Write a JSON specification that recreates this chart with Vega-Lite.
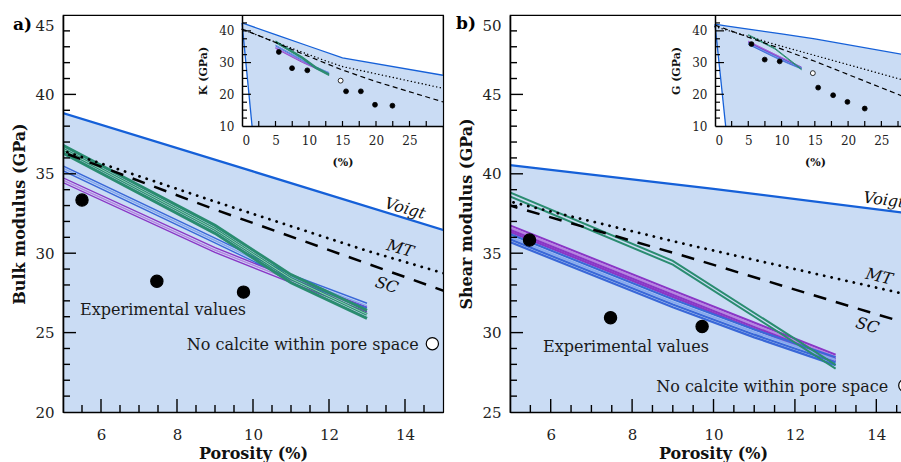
{
  "$schema": "https://vega.github.io/schema/vega-lite/v6.json",
  "padding": {"left": 11, "top": 14, "right": 0, "bottom": 0},
  "spacing": 11,
  "datasets": {
    "boundsK": [
      {"x": 0, "voigt": 42.5, "lower": 42.5},
      {"x": 1.5, "voigt": 41.4, "lower": 10},
      {"x": 5, "voigt": 38.83, "lower": 10},
      {"x": 10, "voigt": 35.15, "lower": 10},
      {"x": 15, "voigt": 31.46, "lower": 10},
      {"x": 30, "voigt": 26.0, "lower": 10}
    ],
    "reussK": [{"x": 0, "y": 42.5}, {"x": 1.5, "y": 10}],
    "mtK": [{"x": 0, "y": 40.5}, {"x": 5, "y": 36.45}, {"x": 9, "y": 33.25}, {"x": 13, "y": 30.15}, {"x": 15, "y": 28.75}, {"x": 30, "y": 21.9}],
    "scK": [{"x": 0, "y": 40.6}, {"x": 5, "y": 36.35}, {"x": 9, "y": 32.75}, {"x": 13, "y": 29.35}, {"x": 15, "y": 27.65}, {"x": 20, "y": 24.0}, {"x": 30, "y": 17.6}],
    "bandsK": [
      {"band": "green", "line": "g1", "x": 5, "y": 36.8}, {"band": "green", "line": "g1", "x": 9, "y": 31.75}, {"band": "green", "line": "g1", "x": 11, "y": 28.65}, {"band": "green", "line": "g1", "x": 13, "y": 26.4},
      {"band": "green", "line": "g2", "x": 5, "y": 36.55}, {"band": "green", "line": "g2", "x": 9, "y": 31.5}, {"band": "green", "line": "g2", "x": 11, "y": 28.4}, {"band": "green", "line": "g2", "x": 13, "y": 26.15},
      {"band": "green", "line": "g3", "x": 5, "y": 36.3}, {"band": "green", "line": "g3", "x": 9, "y": 31.25}, {"band": "green", "line": "g3", "x": 11, "y": 28.15}, {"band": "green", "line": "g3", "x": 13, "y": 25.9},
      {"band": "purple", "line": "p1", "x": 5, "y": 34.75}, {"band": "purple", "line": "p1", "x": 9, "y": 30.35}, {"band": "purple", "line": "p1", "x": 11, "y": 28.45}, {"band": "purple", "line": "p1", "x": 13, "y": 26.6},
      {"band": "purple", "line": "p2", "x": 5, "y": 34.6}, {"band": "purple", "line": "p2", "x": 9, "y": 30.2}, {"band": "purple", "line": "p2", "x": 11, "y": 28.3}, {"band": "purple", "line": "p2", "x": 13, "y": 26.45},
      {"band": "purple", "line": "p3", "x": 5, "y": 34.45}, {"band": "purple", "line": "p3", "x": 9, "y": 30.05}, {"band": "purple", "line": "p3", "x": 11, "y": 28.15}, {"band": "purple", "line": "p3", "x": 13, "y": 26.3},
      {"band": "blue", "line": "b1", "x": 5, "y": 35.5}, {"band": "blue", "line": "b1", "x": 9, "y": 30.95}, {"band": "blue", "line": "b1", "x": 11, "y": 28.65}, {"band": "blue", "line": "b1", "x": 13, "y": 26.85},
      {"band": "blue", "line": "b2", "x": 5, "y": 35.35}, {"band": "blue", "line": "b2", "x": 9, "y": 30.8}, {"band": "blue", "line": "b2", "x": 11, "y": 28.5}, {"band": "blue", "line": "b2", "x": 13, "y": 26.7},
      {"band": "blue", "line": "b3", "x": 5, "y": 35.2}, {"band": "blue", "line": "b3", "x": 9, "y": 30.65}, {"band": "blue", "line": "b3", "x": 11, "y": 28.35}, {"band": "blue", "line": "b3", "x": 13, "y": 26.55}
    ],
    "markersK": [
      {"x": 5.5, "y": 33.35, "kind": "filled"}, {"x": 7.47, "y": 28.23, "kind": "filled"}, {"x": 9.75, "y": 27.55, "kind": "filled"},
      {"x": 15.53, "y": 20.93, "kind": "filled"}, {"x": 17.74, "y": 20.93, "kind": "filled"}, {"x": 19.85, "y": 16.7, "kind": "filled"}, {"x": 22.45, "y": 16.4, "kind": "filled"},
      {"x": 14.72, "y": 24.3, "kind": "open"}
    ],
    "boundsG": [
      {"x": 0, "voigt": 42.1, "lower": 42.1},
      {"x": 1.6, "voigt": 41.6, "lower": 10},
      {"x": 5, "voigt": 40.55, "lower": 10},
      {"x": 10, "voigt": 39.05, "lower": 10},
      {"x": 15, "voigt": 37.45, "lower": 10},
      {"x": 30, "voigt": 31.9, "lower": 10}
    ],
    "reussG": [{"x": 0, "y": 42.1}, {"x": 1.6, "y": 10}],
    "mtG": [{"x": 0, "y": 41.3}, {"x": 5, "y": 38.25}, {"x": 9.34, "y": 35.55}, {"x": 15, "y": 32.25}, {"x": 30, "y": 23.5}],
    "scG": [{"x": 0, "y": 41.8}, {"x": 5, "y": 38.0}, {"x": 9.34, "y": 34.78}, {"x": 13.84, "y": 31.28}, {"x": 15, "y": 30.4}, {"x": 30, "y": 17.9}],
    "bandsG": [
      {"band": "green", "line": "g1", "x": 5, "y": 38.82}, {"band": "green", "line": "g1", "x": 9, "y": 34.52}, {"band": "green", "line": "g1", "x": 13, "y": 27.97},
      {"band": "green", "line": "g2", "x": 5, "y": 38.58}, {"band": "green", "line": "g2", "x": 9, "y": 34.28}, {"band": "green", "line": "g2", "x": 13, "y": 27.73},
      {"band": "purple", "line": "p1", "x": 5, "y": 36.75}, {"band": "purple", "line": "p1", "x": 9, "y": 32.65}, {"band": "purple", "line": "p1", "x": 13, "y": 28.6},
      {"band": "purple", "line": "p2", "x": 5, "y": 36.62}, {"band": "purple", "line": "p2", "x": 9, "y": 32.52}, {"band": "purple", "line": "p2", "x": 13, "y": 28.47},
      {"band": "purple", "line": "p3", "x": 5, "y": 36.48}, {"band": "purple", "line": "p3", "x": 9, "y": 32.38}, {"band": "purple", "line": "p3", "x": 13, "y": 28.33},
      {"band": "purple", "line": "p4", "x": 5, "y": 36.35}, {"band": "purple", "line": "p4", "x": 9, "y": 32.25}, {"band": "purple", "line": "p4", "x": 13, "y": 28.2},
      {"band": "blue", "line": "b1", "x": 5, "y": 36.2}, {"band": "blue", "line": "b1", "x": 9, "y": 32.1}, {"band": "blue", "line": "b1", "x": 11, "y": 30.2}, {"band": "blue", "line": "b1", "x": 13, "y": 28.45},
      {"band": "blue", "line": "b2", "x": 5, "y": 36.03}, {"band": "blue", "line": "b2", "x": 9, "y": 31.93}, {"band": "blue", "line": "b2", "x": 11, "y": 30.03}, {"band": "blue", "line": "b2", "x": 13, "y": 28.28},
      {"band": "blue", "line": "b3", "x": 5, "y": 35.87}, {"band": "blue", "line": "b3", "x": 9, "y": 31.77}, {"band": "blue", "line": "b3", "x": 11, "y": 29.87}, {"band": "blue", "line": "b3", "x": 13, "y": 28.12},
      {"band": "blue", "line": "b4", "x": 5, "y": 35.7}, {"band": "blue", "line": "b4", "x": 9, "y": 31.6}, {"band": "blue", "line": "b4", "x": 11, "y": 29.7}, {"band": "blue", "line": "b4", "x": 13, "y": 27.95}
    ],
    "markersG": [
      {"x": 5.48, "y": 35.83, "kind": "filled"}, {"x": 7.47, "y": 30.94, "kind": "filled"}, {"x": 9.72, "y": 30.38, "kind": "filled"},
      {"x": 15.5, "y": 22.1, "kind": "filled"}, {"x": 17.75, "y": 19.7, "kind": "filled"}, {"x": 19.9, "y": 17.6, "kind": "filled"}, {"x": 22.5, "y": 15.5, "kind": "filled"},
      {"x": 14.7, "y": 26.67, "kind": "open"}
    ],
    "ticksXK": [
      {"v": 5.5, "at": 20, "kind": "minor"}, {"v": 6, "at": 20, "kind": "major"}, {"v": 6.5, "at": 20, "kind": "minor"}, {"v": 7, "at": 20, "kind": "minor"}, {"v": 7.5, "at": 20, "kind": "minor"},
      {"v": 8, "at": 20, "kind": "major"}, {"v": 8.5, "at": 20, "kind": "minor"}, {"v": 9, "at": 20, "kind": "minor"}, {"v": 9.5, "at": 20, "kind": "minor"},
      {"v": 10, "at": 20, "kind": "major"}, {"v": 10.5, "at": 20, "kind": "minor"}, {"v": 11, "at": 20, "kind": "minor"}, {"v": 11.5, "at": 20, "kind": "minor"},
      {"v": 12, "at": 20, "kind": "major"}, {"v": 12.5, "at": 20, "kind": "minor"}, {"v": 13, "at": 20, "kind": "minor"}, {"v": 13.5, "at": 20, "kind": "minor"},
      {"v": 14, "at": 20, "kind": "major"}, {"v": 14.5, "at": 20, "kind": "minor"}
    ],
    "ticksXG": [
      {"v": 5.5, "at": 25, "kind": "minor"}, {"v": 6, "at": 25, "kind": "major"}, {"v": 6.5, "at": 25, "kind": "minor"}, {"v": 7, "at": 25, "kind": "minor"}, {"v": 7.5, "at": 25, "kind": "minor"},
      {"v": 8, "at": 25, "kind": "major"}, {"v": 8.5, "at": 25, "kind": "minor"}, {"v": 9, "at": 25, "kind": "minor"}, {"v": 9.5, "at": 25, "kind": "minor"},
      {"v": 10, "at": 25, "kind": "major"}, {"v": 10.5, "at": 25, "kind": "minor"}, {"v": 11, "at": 25, "kind": "minor"}, {"v": 11.5, "at": 25, "kind": "minor"},
      {"v": 12, "at": 25, "kind": "major"}, {"v": 12.5, "at": 25, "kind": "minor"}, {"v": 13, "at": 25, "kind": "minor"}, {"v": 13.5, "at": 25, "kind": "minor"},
      {"v": 14, "at": 25, "kind": "major"}, {"v": 14.5, "at": 25, "kind": "minor"}
    ],
    "ticksYK": [
      {"v": 21, "at": 5, "kind": "minor"}, {"v": 22, "at": 5, "kind": "minor"}, {"v": 23, "at": 5, "kind": "minor"}, {"v": 24, "at": 5, "kind": "minor"}, {"v": 25, "at": 5, "kind": "major"},
      {"v": 26, "at": 5, "kind": "minor"}, {"v": 27, "at": 5, "kind": "minor"}, {"v": 28, "at": 5, "kind": "minor"}, {"v": 29, "at": 5, "kind": "minor"}, {"v": 30, "at": 5, "kind": "major"},
      {"v": 31, "at": 5, "kind": "minor"}, {"v": 32, "at": 5, "kind": "minor"}, {"v": 33, "at": 5, "kind": "minor"}, {"v": 34, "at": 5, "kind": "minor"}, {"v": 35, "at": 5, "kind": "major"},
      {"v": 36, "at": 5, "kind": "minor"}, {"v": 37, "at": 5, "kind": "minor"}, {"v": 38, "at": 5, "kind": "minor"}, {"v": 39, "at": 5, "kind": "minor"}, {"v": 40, "at": 5, "kind": "major"},
      {"v": 41, "at": 5, "kind": "minor"}, {"v": 42, "at": 5, "kind": "minor"}, {"v": 43, "at": 5, "kind": "minor"}, {"v": 44, "at": 5, "kind": "minor"}
    ],
    "ticksYG": [
      {"v": 26, "at": 5, "kind": "minor"}, {"v": 27, "at": 5, "kind": "minor"}, {"v": 28, "at": 5, "kind": "minor"}, {"v": 29, "at": 5, "kind": "minor"}, {"v": 30, "at": 5, "kind": "major"},
      {"v": 31, "at": 5, "kind": "minor"}, {"v": 32, "at": 5, "kind": "minor"}, {"v": 33, "at": 5, "kind": "minor"}, {"v": 34, "at": 5, "kind": "minor"}, {"v": 35, "at": 5, "kind": "major"},
      {"v": 36, "at": 5, "kind": "minor"}, {"v": 37, "at": 5, "kind": "minor"}, {"v": 38, "at": 5, "kind": "minor"}, {"v": 39, "at": 5, "kind": "minor"}, {"v": 40, "at": 5, "kind": "major"},
      {"v": 41, "at": 5, "kind": "minor"}, {"v": 42, "at": 5, "kind": "minor"}, {"v": 43, "at": 5, "kind": "minor"}, {"v": 44, "at": 5, "kind": "minor"}, {"v": 45, "at": 5, "kind": "major"},
      {"v": 46, "at": 5, "kind": "minor"}, {"v": 47, "at": 5, "kind": "minor"}, {"v": 48, "at": 5, "kind": "minor"}, {"v": 49, "at": 5, "kind": "minor"}
    ],
    "ticksInsetX": [
      {"v": 2.5, "at": 10}, {"v": 5, "at": 10}, {"v": 7.5, "at": 10}, {"v": 10, "at": 10}, {"v": 12.5, "at": 10}, {"v": 15, "at": 10},
      {"v": 17.5, "at": 10}, {"v": 20, "at": 10}, {"v": 22.5, "at": 10}, {"v": 25, "at": 10}, {"v": 27.5, "at": 10}
    ],
    "ticksInsetY": [
      {"v": 12.5, "at": 0, "kind": "minor"}, {"v": 15, "at": 0, "kind": "minor"}, {"v": 17.5, "at": 0, "kind": "minor"}, {"v": 20, "at": 0, "kind": "major"},
      {"v": 22.5, "at": 0, "kind": "minor"}, {"v": 25, "at": 0, "kind": "minor"}, {"v": 27.5, "at": 0, "kind": "minor"}, {"v": 30, "at": 0, "kind": "major"},
      {"v": 32.5, "at": 0, "kind": "minor"}, {"v": 35, "at": 0, "kind": "minor"}, {"v": 37.5, "at": 0, "kind": "minor"}, {"v": 40, "at": 0, "kind": "major"}, {"v": 42.5, "at": 0, "kind": "minor"}
    ]
  },
  "hconcat": [
    {
      "width": 380,
      "height": 397,
      "resolve": {"scale": {"x": "independent", "y": "independent"}, "axis": {"x": "independent", "y": "independent"}},
      "layer": [
        {
          "resolve": {"axis": {"x": "independent", "y": "independent"}},
          "layer": [
            {
              "data": {"name": "boundsK"},
              "mark": {"type": "area", "color": "#cadcf4", "clip": true},
              "encoding": {
                "x": {"field": "x", "type": "quantitative", "scale": {"domain": [5, 15], "nice": false, "zero": false},
                  "axis": {"orient": "bottom", "zindex": 1, "values": [6, 8, 10, 12, 14], "ticks": false, "grid": false, "domainWidth": 1.6, "domainColor": "#000", "labelPadding": 15, "labelFontSize": 15, "labelFont": "DejaVu Serif", "labelColor": "#222", "title": "Porosity (%)", "titleFont": "DejaVu Serif", "titleFontSize": 16, "titleFontWeight": "bold", "titleColor": "#111", "titleBaseline": "alphabetic", "titleY": 46}},
                "y": {"field": "voigt", "type": "quantitative", "scale": {"domain": [20, 45], "nice": false, "zero": false},
                  "axis": {"orient": "left", "zindex": 1, "values": [20, 25, 30, 35, 40, 45], "ticks": false, "grid": false, "domainWidth": 1.6, "domainColor": "#000", "labelPadding": 9, "labelFontSize": 15, "labelFont": "DejaVu Serif", "labelColor": "#222", "labelOffset": {"condition": {"test": "datum.value == 45", "value": 10}, "value": 0}, "title": "Bulk modulus (GPa)", "titleFont": "DejaVu Serif", "titleFontSize": 16, "titleFontWeight": "bold", "titleColor": "#111", "titlePadding": 7}},
                "y2": {"field": "lower"}
              }
            },
            {
              "data": {"name": "boundsK"},
              "mark": {"type": "line", "strokeOpacity": 0, "clip": true},
              "encoding": {
                "x": {"field": "x", "type": "quantitative", "axis": {"orient": "top", "zindex": 1, "ticks": false, "labels": false, "grid": false, "title": null, "domainColor": "#000", "domainWidth": 1.2}},
                "y": {"field": "voigt", "type": "quantitative", "axis": {"orient": "right", "zindex": 1, "ticks": false, "labels": false, "grid": false, "title": null, "domainColor": "#000", "domainWidth": 1.2}}
              }
            },
            {
              "data": {"name": "boundsK"},
              "mark": {"type": "line", "color": "#1560d8", "strokeWidth": 2.2, "clip": true},
              "encoding": {"x": {"field": "x", "type": "quantitative", "axis": null}, "y": {"field": "voigt", "type": "quantitative", "axis": null}}
            },
            {
              "data": {"name": "bandsK"},
              "transform": [{"filter": "datum.band != 'green'"}],
              "mark": {"type": "line", "strokeWidth": 1.4, "clip": true},
              "encoding": {
                "x": {"field": "x", "type": "quantitative", "axis": null}, "y": {"field": "y", "type": "quantitative", "axis": null},
                "color": {"field": "line", "type": "nominal", "legend": null, "scale": {"domain": ["b1", "b2", "b3", "b4", "p1", "p2", "p3", "p4", "g1", "g2", "g3"], "range": ["#3a68d8", "#86a9ee", "#3a68d8", "#3a68d8", "#8a36c6", "#b784e2", "#8a36c6", "#8a36c6", "#2a8c70", "#2a8c70", "#2a8c70"]}}
              }
            },
            {
              "data": {"name": "bandsK"},
              "transform": [{"filter": "datum.band == 'green'"}],
              "mark": {"type": "line", "strokeWidth": 3.0, "clip": true},
              "encoding": {
                "x": {"field": "x", "type": "quantitative", "axis": null}, "y": {"field": "y", "type": "quantitative", "axis": null},
                "color": {"field": "line", "type": "nominal", "legend": null}
              }
            },
            {
              "data": {"name": "bandsK"},
              "transform": [{"filter": "datum.line == 'g2'"}],
              "mark": {"type": "line", "strokeWidth": 0.8, "color": "#a8dccb", "clip": true},
              "encoding": {"x": {"field": "x", "type": "quantitative", "axis": null}, "y": {"field": "y", "type": "quantitative", "axis": null}}
            },
            {
              "data": {"name": "mtK"},
              "mark": {"type": "line", "color": "#000", "strokeWidth": 2.8, "strokeCap": "round", "strokeDash": [0.1, 7.5], "clip": true},
              "encoding": {"x": {"field": "x", "type": "quantitative", "axis": null}, "y": {"field": "y", "type": "quantitative", "axis": null}}
            },
            {
              "data": {"name": "scK"},
              "mark": {"type": "line", "color": "#000", "strokeWidth": 2.5, "strokeDash": [13, 10], "clip": true},
              "encoding": {"x": {"field": "x", "type": "quantitative", "axis": null}, "y": {"field": "y", "type": "quantitative", "axis": null}}
            },
            {
              "data": {"name": "markersK"},
              "mark": {"type": "circle", "size": 150, "stroke": "#000", "strokeWidth": 1.2, "opacity": 1, "clip": true},
              "encoding": {
                "x": {"field": "x", "type": "quantitative", "axis": null}, "y": {"field": "y", "type": "quantitative", "axis": null},
                "fill": {"field": "kind", "type": "nominal", "legend": null, "scale": {"domain": ["filled", "open"], "range": ["#000", "#fff"]}}
              }
            },
            {
              "data": {"name": "ticksXK"},
              "mark": {"type": "point", "shape": "M0,0V-2", "filled": false, "color": "#000", "strokeWidth": 1.4, "opacity": 1},
              "encoding": {
                "x": {"field": "v", "type": "quantitative", "axis": null},
                "y": {"field": "at", "type": "quantitative", "axis": null},
                "size": {"field": "kind", "type": "ordinal", "legend": null, "scale": {"domain": ["major", "minor"], "range": [169, 49]}}
              }
            },
            {
              "data": {"name": "ticksYK"},
              "mark": {"type": "point", "shape": "M0,0H2", "filled": false, "color": "#000", "strokeWidth": 1.4, "opacity": 1},
              "encoding": {
                "x": {"field": "at", "type": "quantitative", "axis": null},
                "y": {"field": "v", "type": "quantitative", "axis": null},
                "size": {"field": "kind", "type": "ordinal", "legend": null}
              }
            },
            {
              "data": {"values": [{"label": "Experimental values", "x": 5.45, "y": 26.09}]},
              "mark": {"type": "text", "align": "left", "baseline": "alphabetic", "font": "DejaVu Serif", "fontSize": 16, "color": "#1a1a1a"},
              "encoding": {"x": {"field": "x", "type": "quantitative", "axis": null}, "y": {"field": "y", "type": "quantitative", "axis": null}, "text": {"field": "label"}}
            },
            {
              "data": {"values": [{"label": "No calcite within pore space", "x": 14.36, "y": 23.89}]},
              "mark": {"type": "text", "align": "right", "baseline": "alphabetic", "font": "DejaVu Serif", "fontSize": 16, "color": "#1a1a1a"},
              "encoding": {"x": {"field": "x", "type": "quantitative", "axis": null}, "y": {"field": "y", "type": "quantitative", "axis": null}, "text": {"field": "label"}}
            },
            {
              "data": {"values": [{"label": "Voigt", "x": 14.0, "y": 32.81}]},
              "mark": {"type": "text", "align": "center", "baseline": "middle", "angle": 16, "font": "DejaVu Serif", "fontStyle": "italic", "fontSize": 16, "color": "#111"},
              "encoding": {"x": {"field": "x", "type": "quantitative", "axis": null}, "y": {"field": "y", "type": "quantitative", "axis": null}, "text": {"field": "label"}}
            },
            {
              "data": {"values": [{"label": "MT", "x": 13.87, "y": 30.28}]},
              "mark": {"type": "text", "align": "center", "baseline": "middle", "angle": 16, "font": "DejaVu Serif", "fontStyle": "italic", "fontSize": 16, "color": "#111"},
              "encoding": {"x": {"field": "x", "type": "quantitative", "axis": null}, "y": {"field": "y", "type": "quantitative", "axis": null}, "text": {"field": "label"}}
            },
            {
              "data": {"values": [{"label": "SC", "x": 13.52, "y": 27.98}]},
              "mark": {"type": "text", "align": "center", "baseline": "middle", "angle": 18, "font": "DejaVu Serif", "fontStyle": "italic", "fontSize": 16, "color": "#111"},
              "encoding": {"x": {"field": "x", "type": "quantitative", "axis": null}, "y": {"field": "y", "type": "quantitative", "axis": null}, "text": {"field": "label"}}
            },
            {
              "data": {"values": [{"label": "a)"}]},
              "mark": {"type": "text", "align": "left", "baseline": "alphabetic", "dx": -50, "dy": 15, "font": "DejaVu Serif", "fontWeight": "bold", "fontSize": 17, "color": "#000"},
              "encoding": {"x": {"datum": 5, "type": "quantitative", "axis": null}, "y": {"datum": 45, "type": "quantitative", "axis": null}, "text": {"field": "label"}}
            }
          ]
        },
        {
          "resolve": {"axis": {"x": "independent", "y": "independent"}},
          "layer": [
            {
              "data": {"name": "boundsK"},
              "mark": {"type": "area", "color": "#cadcf4", "clip": true},
              "encoding": {
                "x": {"field": "x", "type": "quantitative", "scale": {"domain": [0, 30], "range": [179, 380], "nice": false, "zero": false},
                  "axis": {"orient": "bottom", "zindex": 1, "offset": -286, "values": [0, 5, 10, 15, 20, 25], "ticks": false, "grid": false, "domainWidth": 1.5, "domainColor": "#000", "labelPadding": 9, "labelFontSize": 12, "labelFont": "DejaVu Serif", "labelColor": "#222", "title": "(%)", "titleFont": "DejaVu Serif", "titleFontSize": 11, "titleFontWeight": "bold", "titleColor": "#111", "titlePadding": 10}},
                "y": {"field": "voigt", "type": "quantitative", "scale": {"domain": [10, 45], "range": [111, 0], "nice": false, "zero": false},
                  "axis": {"orient": "left", "zindex": 1, "offset": -179, "values": [10, 20, 30, 40], "ticks": false, "grid": false, "domainWidth": 1.5, "domainColor": "#000", "labelPadding": 8, "labelFontSize": 12, "labelFont": "DejaVu Serif", "labelColor": "#222", "title": "K (GPa)", "titleFont": "DejaVu Serif", "titleFontSize": 11, "titleFontWeight": "bold", "titleColor": "#111", "titlePadding": 10}},
                "y2": {"field": "lower"}
              }
            },
            {
              "data": {"name": "boundsK"},
              "mark": {"type": "line", "color": "#1560d8", "strokeWidth": 1.3, "clip": true},
              "encoding": {"x": {"field": "x", "type": "quantitative", "axis": null}, "y": {"field": "voigt", "type": "quantitative", "axis": null}}
            },
            {
              "data": {"name": "reussK"},
              "mark": {"type": "line", "color": "#1560d8", "strokeWidth": 1.3, "clip": true},
              "encoding": {"x": {"field": "x", "type": "quantitative", "axis": null}, "y": {"field": "y", "type": "quantitative", "axis": null}}
            },
            {
              "data": {"name": "bandsK"},
              "transform": [{"filter": "datum.band != 'green'"}],
              "mark": {"type": "line", "strokeWidth": 0.8, "clip": true},
              "encoding": {
                "x": {"field": "x", "type": "quantitative", "axis": null}, "y": {"field": "y", "type": "quantitative", "axis": null},
                "color": {"field": "line", "type": "nominal", "legend": null}
              }
            },
            {
              "data": {"name": "bandsK"},
              "transform": [{"filter": "datum.band == 'green'"}],
              "mark": {"type": "line", "strokeWidth": 1.2, "clip": true},
              "encoding": {
                "x": {"field": "x", "type": "quantitative", "axis": null}, "y": {"field": "y", "type": "quantitative", "axis": null},
                "color": {"field": "line", "type": "nominal", "legend": null}
              }
            },
            {
              "data": {"name": "mtK"},
              "mark": {"type": "line", "color": "#000", "strokeWidth": 1.4, "strokeCap": "round", "strokeDash": [0.1, 3.6], "clip": true},
              "encoding": {"x": {"field": "x", "type": "quantitative", "axis": null}, "y": {"field": "y", "type": "quantitative", "axis": null}}
            },
            {
              "data": {"name": "scK"},
              "mark": {"type": "line", "color": "#000", "strokeWidth": 1.2, "strokeDash": [5, 3.5], "clip": true},
              "encoding": {"x": {"field": "x", "type": "quantitative", "axis": null}, "y": {"field": "y", "type": "quantitative", "axis": null}}
            },
            {
              "data": {"name": "markersK"},
              "mark": {"type": "circle", "size": 24, "stroke": "#000", "strokeWidth": 0.8, "opacity": 1, "clip": true},
              "encoding": {
                "x": {"field": "x", "type": "quantitative", "axis": null}, "y": {"field": "y", "type": "quantitative", "axis": null},
                "fill": {"field": "kind", "type": "nominal", "legend": null}
              }
            },
            {
              "data": {"name": "ticksInsetX"},
              "mark": {"type": "point", "shape": "M0,0V-2", "filled": false, "color": "#000", "strokeWidth": 1.2, "size": 25, "opacity": 1},
              "encoding": {"x": {"field": "v", "type": "quantitative", "axis": null}, "y": {"field": "at", "type": "quantitative", "axis": null}}
            },
            {
              "data": {"name": "ticksInsetY"},
              "transform": [{"filter": "datum.kind == 'major'"}],
              "mark": {"type": "point", "shape": "M0,0H2", "filled": false, "color": "#000", "strokeWidth": 1.2, "size": 81, "opacity": 1},
              "encoding": {"x": {"field": "at", "type": "quantitative", "axis": null}, "y": {"field": "v", "type": "quantitative", "axis": null}}
            },
            {
              "data": {"name": "ticksInsetY"},
              "transform": [{"filter": "datum.kind == 'minor'"}],
              "mark": {"type": "point", "shape": "M0,0H2", "filled": false, "color": "#000", "strokeWidth": 1.2, "size": 25, "opacity": 1},
              "encoding": {"x": {"field": "at", "type": "quantitative", "axis": null}, "y": {"field": "v", "type": "quantitative", "axis": null}}
            }
          ]
        }
      ]
    },
    {
      "width": 394,
      "height": 397,
      "resolve": {"scale": {"x": "independent", "y": "independent"}, "axis": {"x": "independent", "y": "independent"}},
      "layer": [
        {
          "resolve": {"axis": {"x": "independent", "y": "independent"}},
          "layer": [
            {
              "data": {"name": "boundsG"},
              "mark": {"type": "area", "color": "#cadcf4", "clip": true},
              "encoding": {
                "x": {"field": "x", "type": "quantitative", "scale": {"domain": [5, 14.68], "nice": false, "zero": false},
                  "axis": {"orient": "bottom", "zindex": 1, "values": [6, 8, 10, 12, 14], "ticks": false, "grid": false, "domainWidth": 1.6, "domainColor": "#000", "labelPadding": 15, "labelFontSize": 15, "labelFont": "DejaVu Serif", "labelColor": "#222", "title": "Porosity (%)", "titleFont": "DejaVu Serif", "titleFontSize": 16, "titleFontWeight": "bold", "titleColor": "#111", "titleBaseline": "alphabetic", "titleY": 46, "titleX": 203}},
                "y": {"field": "voigt", "type": "quantitative", "scale": {"domain": [25, 50], "nice": false, "zero": false},
                  "axis": {"orient": "left", "zindex": 1, "values": [25, 30, 35, 40, 45, 50], "ticks": false, "grid": false, "domainWidth": 1.6, "domainColor": "#000", "labelPadding": 9, "labelFontSize": 15, "labelFont": "DejaVu Serif", "labelColor": "#222", "labelOffset": {"condition": {"test": "datum.value == 50", "value": 10}, "value": 0}, "title": "Shear modulus (GPa)", "titleFont": "DejaVu Serif", "titleFontSize": 16, "titleFontWeight": "bold", "titleColor": "#111", "titlePadding": 7}},
                "y2": {"field": "lower"}
              }
            },
            {
              "data": {"name": "boundsG"},
              "mark": {"type": "line", "strokeOpacity": 0, "clip": true},
              "encoding": {
                "x": {"field": "x", "type": "quantitative", "axis": {"orient": "top", "zindex": 1, "ticks": false, "labels": false, "grid": false, "title": null, "domainColor": "#000", "domainWidth": 1.2}},
                "y": {"field": "voigt", "type": "quantitative", "axis": null}
              }
            },
            {
              "data": {"name": "boundsG"},
              "mark": {"type": "line", "color": "#1560d8", "strokeWidth": 2.2, "clip": true},
              "encoding": {"x": {"field": "x", "type": "quantitative", "axis": null}, "y": {"field": "voigt", "type": "quantitative", "axis": null}}
            },
            {
              "data": {"name": "bandsG"},
              "transform": [{"filter": "datum.band != 'green'"}],
              "mark": {"type": "line", "strokeWidth": 2.2, "clip": true},
              "encoding": {
                "x": {"field": "x", "type": "quantitative", "axis": null}, "y": {"field": "y", "type": "quantitative", "axis": null},
                "color": {"field": "line", "type": "nominal", "legend": null, "scale": {"domain": ["b1", "b2", "b3", "b4", "p1", "p2", "p3", "p4", "g1", "g2", "g3"], "range": ["#3a68d8", "#86a9ee", "#3a68d8", "#3a68d8", "#8a36c6", "#b784e2", "#8a36c6", "#8a36c6", "#2a8c70", "#2a8c70", "#2a8c70"]}}
              }
            },
            {
              "data": {"name": "bandsG"},
              "transform": [{"filter": "datum.band == 'green'"}],
              "mark": {"type": "line", "strokeWidth": 2, "clip": true},
              "encoding": {
                "x": {"field": "x", "type": "quantitative", "axis": null}, "y": {"field": "y", "type": "quantitative", "axis": null},
                "color": {"field": "line", "type": "nominal", "legend": null}
              }
            },
            {
              "data": {"name": "mtG"},
              "mark": {"type": "line", "color": "#000", "strokeWidth": 2.8, "strokeCap": "round", "strokeDash": [0.1, 7.5], "clip": true},
              "encoding": {"x": {"field": "x", "type": "quantitative", "axis": null}, "y": {"field": "y", "type": "quantitative", "axis": null}}
            },
            {
              "data": {"name": "scG"},
              "mark": {"type": "line", "color": "#000", "strokeWidth": 2.5, "strokeDash": [13, 10], "clip": true},
              "encoding": {"x": {"field": "x", "type": "quantitative", "axis": null}, "y": {"field": "y", "type": "quantitative", "axis": null}}
            },
            {
              "data": {"name": "markersG"},
              "mark": {"type": "circle", "size": 150, "stroke": "#000", "strokeWidth": 1.2, "opacity": 1, "clip": true},
              "encoding": {
                "x": {"field": "x", "type": "quantitative", "axis": null}, "y": {"field": "y", "type": "quantitative", "axis": null},
                "fill": {"field": "kind", "type": "nominal", "legend": null, "scale": {"domain": ["filled", "open"], "range": ["#000", "#fff"]}}
              }
            },
            {
              "data": {"name": "ticksXG"},
              "mark": {"type": "point", "shape": "M0,0V-2", "filled": false, "color": "#000", "strokeWidth": 1.4, "opacity": 1},
              "encoding": {
                "x": {"field": "v", "type": "quantitative", "axis": null},
                "y": {"field": "at", "type": "quantitative", "axis": null},
                "size": {"field": "kind", "type": "ordinal", "legend": null, "scale": {"domain": ["major", "minor"], "range": [169, 49]}}
              }
            },
            {
              "data": {"name": "ticksYG"},
              "mark": {"type": "point", "shape": "M0,0H2", "filled": false, "color": "#000", "strokeWidth": 1.4, "opacity": 1},
              "encoding": {
                "x": {"field": "at", "type": "quantitative", "axis": null},
                "y": {"field": "v", "type": "quantitative", "axis": null},
                "size": {"field": "kind", "type": "ordinal", "legend": null}
              }
            },
            {
              "data": {"values": [{"label": "Experimental values", "x": 5.81, "y": 28.8}]},
              "mark": {"type": "text", "align": "left", "baseline": "alphabetic", "font": "DejaVu Serif", "fontSize": 16, "color": "#1a1a1a"},
              "encoding": {"x": {"field": "x", "type": "quantitative", "axis": null}, "y": {"field": "y", "type": "quantitative", "axis": null}, "text": {"field": "label"}}
            },
            {
              "data": {"values": [{"label": "No calcite within pore space", "x": 14.29, "y": 26.29}]},
              "mark": {"type": "text", "align": "right", "baseline": "alphabetic", "font": "DejaVu Serif", "fontSize": 16, "color": "#1a1a1a"},
              "encoding": {"x": {"field": "x", "type": "quantitative", "axis": null}, "y": {"field": "y", "type": "quantitative", "axis": null}, "text": {"field": "label"}}
            },
            {
              "data": {"values": [{"label": "Voigt", "x": 13.68, "y": 38.51}]},
              "mark": {"type": "text", "align": "left", "baseline": "middle", "angle": 7, "font": "DejaVu Serif", "fontStyle": "italic", "fontSize": 16, "color": "#111", "clip": true},
              "encoding": {"x": {"field": "x", "type": "quantitative", "axis": null}, "y": {"field": "y", "type": "quantitative", "axis": null}, "text": {"field": "label"}}
            },
            {
              "data": {"values": [{"label": "MT", "x": 14.07, "y": 33.52}]},
              "mark": {"type": "text", "align": "center", "baseline": "middle", "angle": 13, "font": "DejaVu Serif", "fontStyle": "italic", "fontSize": 16, "color": "#111", "clip": true},
              "encoding": {"x": {"field": "x", "type": "quantitative", "axis": null}, "y": {"field": "y", "type": "quantitative", "axis": null}, "text": {"field": "label"}}
            },
            {
              "data": {"values": [{"label": "SC", "x": 13.78, "y": 30.44}]},
              "mark": {"type": "text", "align": "center", "baseline": "middle", "angle": 16, "font": "DejaVu Serif", "fontStyle": "italic", "fontSize": 16, "color": "#111", "clip": true},
              "encoding": {"x": {"field": "x", "type": "quantitative", "axis": null}, "y": {"field": "y", "type": "quantitative", "axis": null}, "text": {"field": "label"}}
            },
            {
              "data": {"values": [{"label": "b)"}]},
              "mark": {"type": "text", "align": "left", "baseline": "alphabetic", "dx": -54, "dy": 14, "font": "DejaVu Serif", "fontWeight": "bold", "fontSize": 17, "color": "#000"},
              "encoding": {"x": {"datum": 5, "type": "quantitative", "axis": null}, "y": {"datum": 50, "type": "quantitative", "axis": null}, "text": {"field": "label"}}
            }
          ]
        },
        {
          "resolve": {"axis": {"x": "independent", "y": "independent"}},
          "layer": [
            {
              "data": {"name": "boundsG"},
              "mark": {"type": "area", "color": "#cadcf4", "clip": true},
              "encoding": {
                "x": {"field": "x", "type": "quantitative", "scale": {"domain": [0, 28.4], "range": [205, 394], "nice": false, "zero": false},
                  "axis": {"orient": "bottom", "zindex": 1, "offset": -286, "values": [0, 5, 10, 15, 20, 25], "ticks": false, "grid": false, "domainWidth": 1.5, "domainColor": "#000", "labelPadding": 9, "labelFontSize": 12, "labelFont": "DejaVu Serif", "labelColor": "#222", "title": "(%)", "titleFont": "DejaVu Serif", "titleFontSize": 11, "titleFontWeight": "bold", "titleColor": "#111", "titlePadding": 10, "titleX": 305}},
                "y": {"field": "voigt", "type": "quantitative", "scale": {"domain": [10, 45], "range": [111, 0], "nice": false, "zero": false},
                  "axis": {"orient": "left", "zindex": 1, "offset": -205, "values": [10, 20, 30, 40], "ticks": false, "grid": false, "domainWidth": 1.5, "domainColor": "#000", "labelPadding": 8, "labelFontSize": 12, "labelFont": "DejaVu Serif", "labelColor": "#222", "title": "G (GPa)", "titleFont": "DejaVu Serif", "titleFontSize": 11, "titleFontWeight": "bold", "titleColor": "#111", "titlePadding": 10}},
                "y2": {"field": "lower"}
              }
            },
            {
              "data": {"name": "boundsG"},
              "mark": {"type": "line", "color": "#1560d8", "strokeWidth": 1.3, "clip": true},
              "encoding": {"x": {"field": "x", "type": "quantitative", "axis": null}, "y": {"field": "voigt", "type": "quantitative", "axis": null}}
            },
            {
              "data": {"name": "reussG"},
              "mark": {"type": "line", "color": "#1560d8", "strokeWidth": 1.3, "clip": true},
              "encoding": {"x": {"field": "x", "type": "quantitative", "axis": null}, "y": {"field": "y", "type": "quantitative", "axis": null}}
            },
            {
              "data": {"name": "bandsG"},
              "transform": [{"filter": "datum.band != 'green'"}],
              "mark": {"type": "line", "strokeWidth": 0.8, "clip": true},
              "encoding": {
                "x": {"field": "x", "type": "quantitative", "axis": null}, "y": {"field": "y", "type": "quantitative", "axis": null},
                "color": {"field": "line", "type": "nominal", "legend": null}
              }
            },
            {
              "data": {"name": "bandsG"},
              "transform": [{"filter": "datum.band == 'green'"}],
              "mark": {"type": "line", "strokeWidth": 1.0, "clip": true},
              "encoding": {
                "x": {"field": "x", "type": "quantitative", "axis": null}, "y": {"field": "y", "type": "quantitative", "axis": null},
                "color": {"field": "line", "type": "nominal", "legend": null}
              }
            },
            {
              "data": {"name": "mtG"},
              "mark": {"type": "line", "color": "#000", "strokeWidth": 1.4, "strokeCap": "round", "strokeDash": [0.1, 3.6], "clip": true},
              "encoding": {"x": {"field": "x", "type": "quantitative", "axis": null}, "y": {"field": "y", "type": "quantitative", "axis": null}}
            },
            {
              "data": {"name": "scG"},
              "mark": {"type": "line", "color": "#000", "strokeWidth": 1.2, "strokeDash": [5, 3.5], "clip": true},
              "encoding": {"x": {"field": "x", "type": "quantitative", "axis": null}, "y": {"field": "y", "type": "quantitative", "axis": null}}
            },
            {
              "data": {"name": "markersG"},
              "mark": {"type": "circle", "size": 24, "stroke": "#000", "strokeWidth": 0.8, "opacity": 1, "clip": true},
              "encoding": {
                "x": {"field": "x", "type": "quantitative", "axis": null}, "y": {"field": "y", "type": "quantitative", "axis": null},
                "fill": {"field": "kind", "type": "nominal", "legend": null}
              }
            },
            {
              "data": {"name": "ticksInsetX"},
              "mark": {"type": "point", "shape": "M0,0V-2", "filled": false, "color": "#000", "strokeWidth": 1.2, "size": 25, "opacity": 1, "clip": true},
              "encoding": {"x": {"field": "v", "type": "quantitative", "axis": null}, "y": {"field": "at", "type": "quantitative", "axis": null}}
            },
            {
              "data": {"name": "ticksInsetY"},
              "transform": [{"filter": "datum.kind == 'major'"}],
              "mark": {"type": "point", "shape": "M0,0H2", "filled": false, "color": "#000", "strokeWidth": 1.2, "size": 81, "opacity": 1},
              "encoding": {"x": {"field": "at", "type": "quantitative", "axis": null}, "y": {"field": "v", "type": "quantitative", "axis": null}}
            },
            {
              "data": {"name": "ticksInsetY"},
              "transform": [{"filter": "datum.kind == 'minor'"}],
              "mark": {"type": "point", "shape": "M0,0H2", "filled": false, "color": "#000", "strokeWidth": 1.2, "size": 25, "opacity": 1},
              "encoding": {"x": {"field": "at", "type": "quantitative", "axis": null}, "y": {"field": "v", "type": "quantitative", "axis": null}}
            }
          ]
        }
      ]
    }
  ],
  "config": {
    "view": {"stroke": "#000", "strokeWidth": 1.2},
    "axis": {"grid": false},
    "font": "DejaVu Serif"
  }
}
